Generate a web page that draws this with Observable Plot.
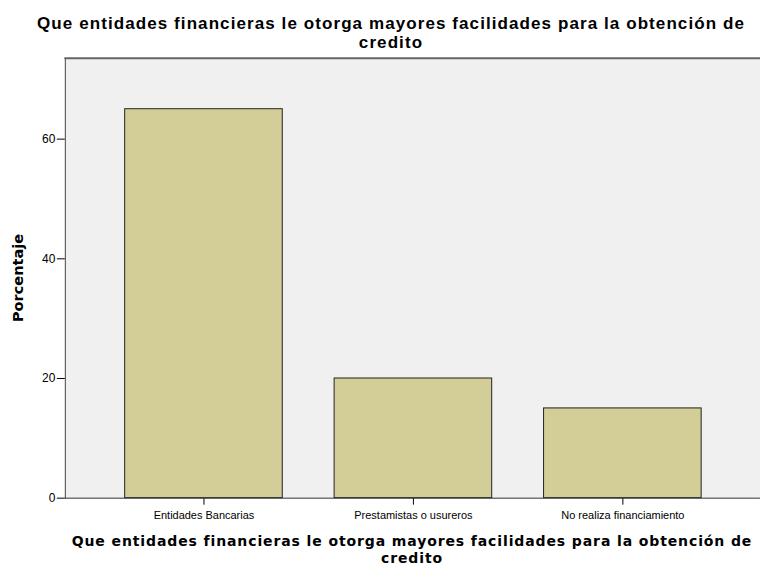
<!DOCTYPE html>
<html><head><meta charset="utf-8">
<script src="https://cdn.jsdelivr.net/npm/d3@7"></script>
<script src="https://cdn.jsdelivr.net/npm/@observablehq/plot@0.6"></script>
<style>
body{margin:0;overflow:hidden;background:#fff;font-family:"Liberation Sans",Arial,sans-serif;}
#wrap{position:relative;width:760px;height:567px;overflow:hidden;}
.t{position:absolute;text-align:center;font-weight:bold;color:#000;white-space:nowrap;}
.t span{display:inline-block;}
#title{top:14px;left:-9px;width:800px;font-family:"Liberation Sans",Arial,sans-serif;font-size:17px;line-height:19px;}
#xtitle{top:533px;left:12px;width:800px;font-family:"DejaVu Sans",Verdana,sans-serif;font-size:14px;line-height:17px;}
#ylabel{position:absolute;left:18px;top:278px;transform:translate(-50%,-50%) rotate(-90deg);font-family:"DejaVu Sans",Verdana,sans-serif;font-weight:bold;font-size:14.5px;white-space:nowrap;color:#000;}
#chart{position:absolute;left:0;top:0;}
</style></head>
<body><div id="wrap">
<div id="chart"></div>
<div id="title" class="t"><span id="t1">Que entidades financieras le otorga mayores facilidades para la obtención de</span><br><span id="t2">credito</span></div>
<div id="xtitle" class="t"><span id="x1">Que entidades financieras le otorga mayores facilidades para la obtención de</span><br><span id="x2">credito</span></div>
<div id="ylabel">Porcentaje</div>
</div>
<script>
const categories = ["Entidades Bancarias", "Prestamistas o usureros", "No realiza financiamiento"];
const porcentaje = [65, 20, 15];
const yTicks = [0, 20, 40, 60];

const data = categories.map((c, i) => ({categoria: c, valor: porcentaje[i]}));

const chart = Plot.plot({
  width: 762,
  height: 567,
  marginTop: 58,
  marginBottom: 68,
  marginLeft: 65,
  marginRight: 0,
  style: {fontFamily: "'Liberation Sans', Arial, sans-serif", fontSize: "11px", background: "transparent", color: "#000"},
  x: {domain: categories, paddingInner: 0.248, paddingOuter: 0.2835, align: 0.5, label: null, tickSize: 7, tickPadding: 6},
  y: {domain: [0, 73.5], ticks: yTicks, label: null, tickSize: 8, tickPadding: 2},
  marks: [
    Plot.frame({fill: "#f0f0f0", stroke: null}),
    Plot.barY(data, {x: "categoria", y: "valor", fill: "#d3ce97", stroke: "#222", strokeWidth: 1}),
    Plot.ruleY([0], {stroke: "#333"}),
    Plot.frame({anchor: "left", stroke: "#444"}),
    Plot.frame({anchor: "top", stroke: "#666", strokeWidth: 2})
  ]
});
document.getElementById("chart").appendChild(chart);
chart.querySelectorAll("g[aria-label='y-axis tick label'] text").forEach(t => t.style.fontSize = "12px");

// fit title line widths to the reference by letter-spacing
function fit(id, target) {
  const el = document.getElementById(id);
  const w = el.getBoundingClientRect().width;
  const n = el.textContent.length;
  const ls = (target - w) / n;
  el.style.letterSpacing = ls + "px";
  return ls;
}
const ls1 = fit("t1", 708);
document.getElementById("t2").style.letterSpacing = ls1 + "px";
const ls2 = fit("x1", 680);
document.getElementById("x2").style.letterSpacing = ls2 + "px";
</script>
</body></html>
